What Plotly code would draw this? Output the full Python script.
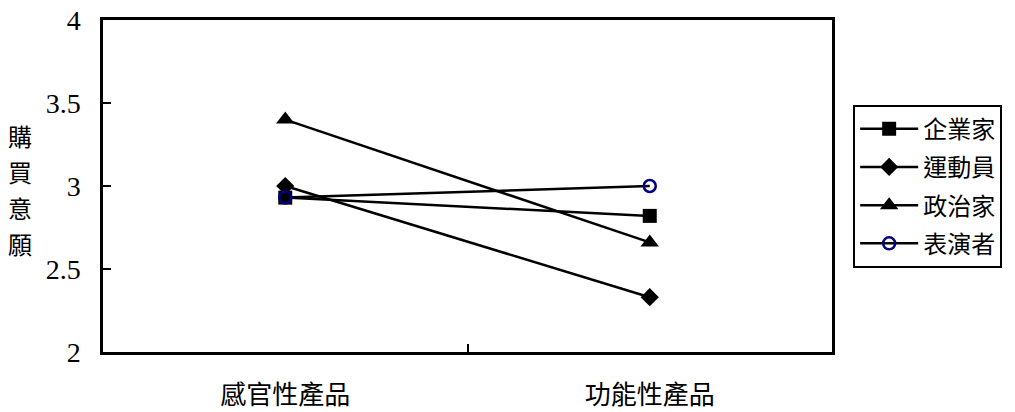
import plotly.graph_objects as go

categories = ["感官性產品", "功能性產品"]
series_names = ["企業家", "運動員", "政治家", "表演者"]
entrepreneur = [2.93, 2.82]
athlete = [3.00, 2.33]
politician = [3.40, 2.66]
performer = [2.93, 3.00]
y_ticks = [2, 2.5, 3, 3.5, 4]
y_title_chars = ["購", "買", "意", "願"]

NUM_FONT = "'Liberation Serif', 'DejaVu Serif', 'Times New Roman', serif"
CJK_FONT = "'Noto Sans CJK TC', 'Noto Sans CJK SC', sans-serif"

styles = [
    dict(symbol="square", size=14, color="black", line=dict(width=0)),
    dict(symbol="diamond", size=14, color="black", line=dict(width=0)),
    dict(symbol="triangle-up", size=16, color="black", line=dict(width=0)),
    dict(symbol="circle-open", size=12, color="#000080", line=dict(width=2.5, color="#000080")),
]

fig = go.Figure()
for name, vals, mk in zip(series_names, [entrepreneur, athlete, politician, performer], styles):
    fig.add_trace(go.Scatter(
        x=categories, y=vals, name=name, mode="lines+markers",
        legendgroup=name,
        line=dict(color="black", width=2.5),
        marker=mk,
    ))

fig.update_layout(
    width=1015, height=412,
    margin=dict(l=103, r=183, t=20, b=60),
    paper_bgcolor="white", plot_bgcolor="white",
    font=dict(family=CJK_FONT, size=22, color="black"),
    showlegend=True,
    legend=dict(
        x=1.029, y=0.745, xanchor="left", yanchor="top",
        bordercolor="black", borderwidth=2,
        font=dict(family=CJK_FONT, size=24),
        itemwidth=58, tracegroupgap=4,
    ),
    xaxis=dict(
        type="category", range=[-0.5, 1.5], automargin=False,
        showline=True, linecolor="black", linewidth=2.5, mirror=True,
        ticks="inside", tickson="boundaries", ticklen=8, tickwidth=2, tickcolor="black",
        showgrid=False, zeroline=False,
        tickfont=dict(family=CJK_FONT, size=26),
        ticklabelstandoff=18,
    ),
    yaxis=dict(
        range=[2, 4], tickvals=y_ticks, ticktext=[f"{t:g}" for t in y_ticks],
        automargin=False,
        showline=True, linecolor="black", linewidth=2.5, mirror=True,
        ticks="inside", ticklen=8, tickwidth=2, tickcolor="black",
        showgrid=False, zeroline=False,
        tickfont=dict(family=NUM_FONT, size=28),
        ticklabelstandoff=14,
    ),
)

for i, ch in enumerate(y_title_chars):
    fig.add_annotation(
        text=ch, xref="paper", yref="paper",
        x=-0.114, y=(352 - (135 + 36 * i)) / 332,
        xanchor="center", yanchor="middle", showarrow=False,
        font=dict(family=CJK_FONT, size=24),
    )

fig.write_html("out.html")
